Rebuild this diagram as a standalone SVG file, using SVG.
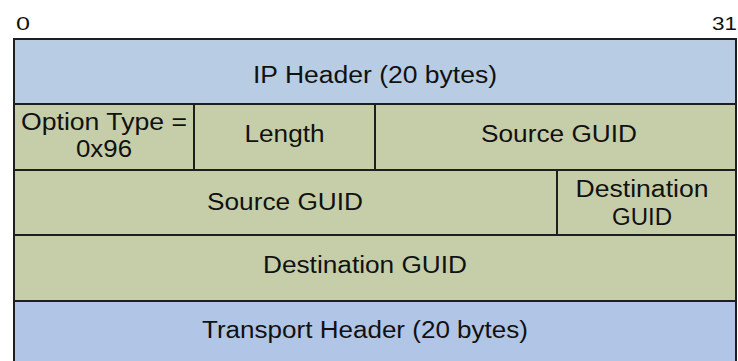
<svg xmlns="http://www.w3.org/2000/svg" width="738" height="361" viewBox="0 0 738 361">
<style>
  .blue { fill: #B8CCE4; stroke: #1e1e1e; stroke-width: 2; }
  .blue2 { fill: #B1C5E6; stroke: #1e1e1e; stroke-width: 2; }
  .green { fill: #C6CEA9; stroke: #1e1e1e; stroke-width: 2; }
  text { font-family: "Liberation Sans", Arial, sans-serif; font-size: 23px; fill: #111; text-anchor: middle; }
  .lbl { font-size: 19px; }
</style>
<rect x="0" y="0" width="738" height="361" fill="#ffffff"/>
<g id="bit-labels">
  <text class="lbl" x="16" y="30" style="text-anchor:start" textLength="14" lengthAdjust="spacingAndGlyphs">0</text>
  <text class="lbl" x="737" y="30" style="text-anchor:end" textLength="25" lengthAdjust="spacingAndGlyphs">31</text>
</g>
<g id="ip-header">
  <rect class="blue" x="14" y="39" width="722" height="65"/>
  <text x="375" y="83" textLength="244" lengthAdjust="spacingAndGlyphs">IP Header (20 bytes)</text>
</g>
<g id="option-type">
  <rect class="green" x="14" y="104" width="180" height="66"/>
  <text x="104" y="130" textLength="166" lengthAdjust="spacingAndGlyphs">Option Type =</text>
  <text x="104" y="157" textLength="56" lengthAdjust="spacingAndGlyphs">0x96</text>
</g>
<g id="length">
  <rect class="green" x="194" y="104" width="181" height="66"/>
  <text x="284.5" y="142" textLength="80" lengthAdjust="spacingAndGlyphs">Length</text>
</g>
<g id="source-guid-1">
  <rect class="green" x="375" y="104" width="361" height="66"/>
  <text x="559" y="142" textLength="156" lengthAdjust="spacingAndGlyphs">Source GUID</text>
</g>
<g id="source-guid-2">
  <rect class="green" x="14" y="170" width="543" height="65"/>
  <text x="285" y="210" textLength="156" lengthAdjust="spacingAndGlyphs">Source GUID</text>
</g>
<g id="destination-guid-1">
  <rect class="green" x="557" y="170" width="179" height="65"/>
  <text x="642" y="197" textLength="133" lengthAdjust="spacingAndGlyphs">Destination</text>
  <text x="642" y="225" textLength="60" lengthAdjust="spacingAndGlyphs">GUID</text>
</g>
<g id="destination-guid-2">
  <rect class="green" x="14" y="235" width="722" height="66"/>
  <text x="365" y="273" textLength="204" lengthAdjust="spacingAndGlyphs">Destination GUID</text>
</g>
<g id="transport-header">
  <rect class="blue2" x="14" y="301" width="722" height="70"/>
  <text x="365" y="338" textLength="326" lengthAdjust="spacingAndGlyphs">Transport Header (20 bytes)</text>
</g>
</svg>
